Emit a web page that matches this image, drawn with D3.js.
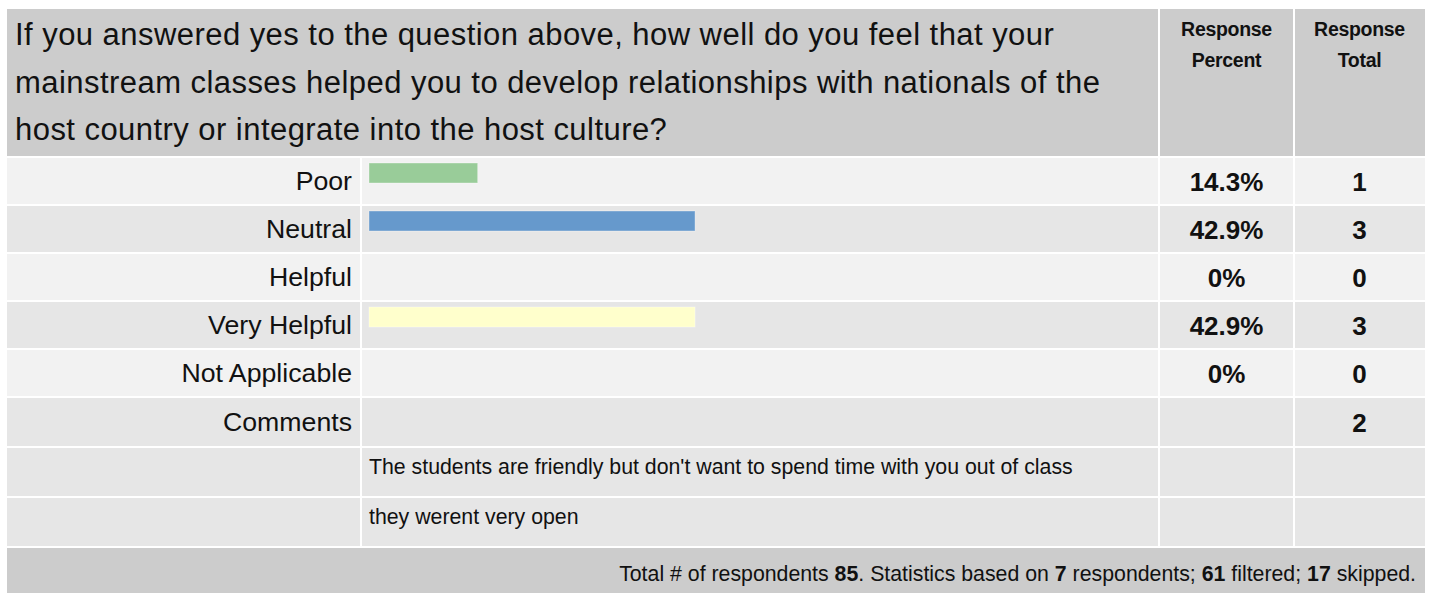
<!DOCTYPE html>
<html>
<head>
<meta charset="utf-8">
<script src="https://cdn.jsdelivr.net/npm/d3@7"></script>
<style>
    body { margin: 0; background: #fff; }
    svg { display: block; }
</style>
</head>
<body>
<div id="chart"></div>
<script>
const questionLines = [
    "If you answered yes to the question above, how well do you feel that your",
    "mainstream classes helped you to develop relationships with nationals of the",
    "host country or integrate into the host culture?"
];
const headerPercent = ["Response", "Percent"];
const headerTotal = ["Response", "Total"];

const categories = ["Poor", "Neutral", "Helpful", "Very Helpful", "Not Applicable"];
const percents = [14.3, 42.9, 0, 42.9, 0];
const percentLabels = ["14.3%", "42.9%", "0%", "42.9%", "0%"];
const totals = [1, 3, 0, 3, 0];
const barColors = ["#99cc99", "#6699cc", "#cc9999", "#ffffcc", "#9999cc"];

const commentLabel = "Comments";
const commentTotal = 2;
const comments = [
    "The students are friendly but don't want to spend time with you out of class",
    "they werent very open"
];

const footerParts = [
    ["Total # of respondents ", false], ["85", true], [". Statistics based on ", false],
    ["7", true], [" respondents; ", false], ["61", true], [" filtered; ", false],
    ["17", true], [" skipped.", false]
];

const width = 1429;
const height = 593;
const font = "'Liberation Sans', Arial, sans-serif";

// column edges and row edges (white 2px grid lines sit on them)
const colEdges = [7, 361, 1159, 1294, 1425];
const rowEdges = [157, 205, 253, 301, 349, 397, 447, 497, 547];
const headerTop = 9;

const svg = d3.select("#chart")
    .append("svg")
    .attr("width", width)
    .attr("height", height)
    .attr("font-family", font);

svg.append("rect").attr("width", width).attr("height", height).attr("fill", "#fff");

// header
svg.append("rect")
    .attr("x", colEdges[0]).attr("y", headerTop)
    .attr("width", colEdges[2] - 1 - colEdges[0]).attr("height", rowEdges[0] - 1 - headerTop)
    .attr("fill", "#cccccc");
[[2, headerPercent], [3, headerTotal]].forEach(([c, lines]) => {
    const x0 = colEdges[c] + 1, x1 = c === 3 ? colEdges[4] : colEdges[c + 1] - 1;
    svg.append("rect")
        .attr("x", x0).attr("y", headerTop)
        .attr("width", x1 - x0).attr("height", rowEdges[0] - 1 - headerTop)
        .attr("fill", "#cccccc");
    svg.append("text")
        .attr("x", (colEdges[c] + colEdges[c + 1]) / 2)
        .attr("text-anchor", "middle")
        .attr("font-size", "19.5px")
        .attr("font-weight", "bold")
        .attr("letter-spacing", "-0.3px")
        .attr("fill", "#111")
        .selectAll("tspan")
        .data(lines)
        .enter()
        .append("tspan")
        .attr("x", (colEdges[c] + colEdges[c + 1]) / 2)
        .attr("y", (d, i) => 36 + i * 31)
        .text(d => d);
});

svg.append("text")
    .attr("font-size", "31px")
    .attr("letter-spacing", "0.45px")
    .attr("fill", "#111")
    .selectAll("tspan")
    .data(questionLines)
    .enter()
    .append("tspan")
    .attr("x", 15)
    .attr("y", (d, i) => 45 + i * 47.5)
    .text(d => d);

// body rows
const rows = categories.map((c, i) => ({ label: c, pct: percents[i], pctLabel: percentLabels[i], total: totals[i], color: barColors[i] }));
rows.push({ label: commentLabel, pct: null, pctLabel: "", total: commentTotal });
comments.forEach(t => rows.push({ label: "", comment: t, pct: null, pctLabel: "", total: "" }));

const x = d3.scaleLinear().domain([0, 100]).range([colEdges[1] + 8, colEdges[1] + 8 + 760]);

const rowG = svg.selectAll("g.row")
    .data(rows)
    .enter()
    .append("g")
    .attr("class", "row");

rowG.each(function(d, i) {
    const g = d3.select(this);
    const y0 = rowEdges[i] + 1, y1 = rowEdges[i + 1] - 1;
    const fill = (i < categories.length && i % 2 === 0) ? "#f2f2f2" : "#e6e6e6";
    for (let c = 0; c < 4; c++) {
        const xa = c === 0 ? colEdges[0] : colEdges[c] + 1;
        const xb = c === 3 ? colEdges[4] : colEdges[c + 1] - 1;
        g.append("rect")
            .attr("x", xa).attr("y", y0)
            .attr("width", xb - xa).attr("height", y1 - y0)
            .attr("fill", fill);
    }
    const cy = (rowEdges[i] + rowEdges[i + 1]) / 2;
    if (d.label) {
        g.append("text")
            .attr("x", colEdges[1] - 9)
            .attr("y", cy + 9)
            .attr("text-anchor", "end")
            .attr("font-size", "26.7px")
            .attr("fill", "#111")
            .text(d.label);
    }
    if (d.pct) {
        g.append("rect")
            .attr("x", x(0))
            .attr("y", rowEdges[i] + 6)
            .attr("width", x(d.pct) - x(0))
            .attr("height", 20)
            .attr("fill", d.color)
            .attr("stroke", "#ffffff")
            .attr("stroke-opacity", 0.35)
            .attr("stroke-width", 1);
    }
    if (d.comment) {
        g.append("text")
            .attr("x", colEdges[1] + 8)
            .attr("y", cy + 2)
            .attr("font-size", "21.3px")
            .attr("fill", "#111")
            .text(d.comment);
    }
    if (d.pctLabel) {
        g.append("text")
            .attr("x", (colEdges[2] + colEdges[3]) / 2)
            .attr("y", cy + 9.5)
            .attr("text-anchor", "middle")
            .attr("font-size", "26px")
            .attr("font-weight", "bold")
            .attr("fill", "#111")
            .text(d.pctLabel);
    }
    if (d.total !== "") {
        g.append("text")
            .attr("x", (colEdges[3] + colEdges[4]) / 2)
            .attr("y", cy + 9.5)
            .attr("text-anchor", "middle")
            .attr("font-size", "26px")
            .attr("font-weight", "bold")
            .attr("fill", "#111")
            .text(d.total);
    }
});

// footer
const footY = rowEdges[rowEdges.length - 1] + 1;
svg.append("rect")
    .attr("x", colEdges[0]).attr("y", footY)
    .attr("width", colEdges[4] - colEdges[0]).attr("height", height - footY + 2)
    .attr("fill", "#cccccc");
svg.append("text")
    .attr("x", 1416)
    .attr("y", 581)
    .attr("text-anchor", "end")
    .attr("font-size", "21.3px")
    .attr("fill", "#111")
    .selectAll("tspan")
    .data(footerParts)
    .enter()
    .append("tspan")
    .attr("font-weight", d => d[1] ? "bold" : "normal")
    .text(d => d[0]);
</script>
</body>
</html>
